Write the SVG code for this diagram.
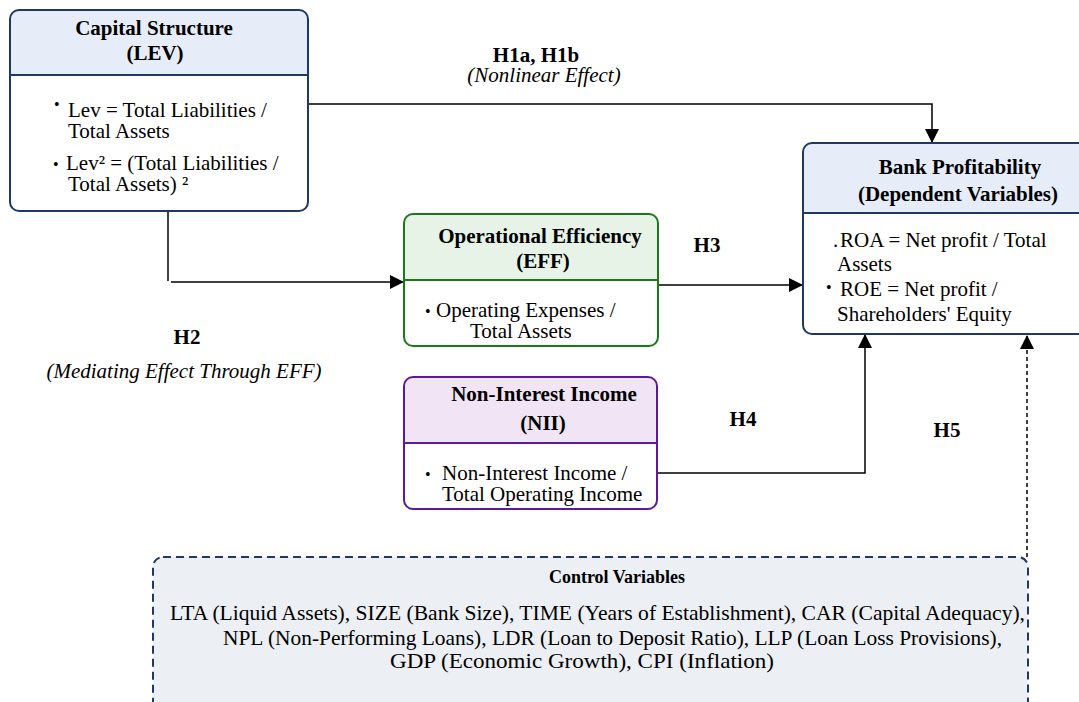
<svg xmlns="http://www.w3.org/2000/svg" width="1079" height="702" viewBox="0 0 1079 702" font-family="'Liberation Serif', 'DejaVu Serif', serif">
<defs>
<marker id="arr" viewBox="0 0 10 10" refX="10" refY="5" markerWidth="14" markerHeight="14" markerUnits="userSpaceOnUse" orient="auto">
<path d="M0,0 L10,5 L0,10 Z" fill="#000"/>
</marker>
</defs>
<style>
text{font-family:'Liberation Serif','DejaVu Serif',serif;fill:#000}
.t{font-size:21px;font-weight:bold;text-anchor:middle}
.b{font-size:21px}
.h{font-size:21px;font-weight:bold;text-anchor:middle}
.i{font-size:21px;font-style:italic;text-anchor:middle}
.d{font-size:16px}
.ln{fill:none;stroke:#000;stroke-width:1.5}
.navy{stroke:#1f3864;stroke-width:2}
.green{stroke:#1a7a1a;stroke-width:2}
.purple{stroke:#5c1a99;stroke-width:2}
</style>
<rect width="1079" height="702" fill="#fff"/>

<g id="control">
<rect x="153" y="557" width="875" height="160" rx="10" fill="#eceff3" stroke="#1f3864" stroke-width="2" stroke-dasharray="8 5"/>
<text x="617" y="583" style="font-size:18px;font-weight:bold;text-anchor:middle">Control Variables</text>
<text x="170" y="620" class="b" textLength="855" lengthAdjust="spacingAndGlyphs">LTA (Liquid Assets), SIZE (Bank Size), TIME (Years of Establishment), CAR (Capital Adequacy),</text>
<text x="223" y="645" class="b" textLength="779" lengthAdjust="spacingAndGlyphs">NPL (Non-Performing Loans), LDR (Loan to Deposit Ratio), LLP (Loan Loss Provisions),</text>
<text x="390" y="668" class="b" textLength="384" lengthAdjust="spacingAndGlyphs">GDP (Economic Growth), CPI (Inflation)</text>
</g>

<g id="connectors">
<polyline class="ln" points="309,104 932,104 932,143" marker-end="url(#arr)"/>
<polyline class="ln" points="168,211 168,281"/>
<line class="ln" x1="171" y1="282" x2="404" y2="282" marker-end="url(#arr)"/>
<line class="ln" x1="658" y1="285" x2="803" y2="285" marker-end="url(#arr)"/>
<polyline class="ln" points="657,473 865,473 865,334" marker-end="url(#arr)"/>
<line x1="1027" y1="557" x2="1027" y2="335" stroke="#000" stroke-width="1.5" stroke-dasharray="4 3" marker-end="url(#arr)"/>
<text x="536" y="62" class="h">H1a, H1b</text>
<text x="544" y="82" class="i">(Nonlinear Effect)</text>
<text x="187" y="344" class="h">H2</text>
<text x="184" y="378" class="i">(Mediating Effect Through EFF)</text>
<text x="707" y="252" class="h">H3</text>
<text x="743" y="426" class="h">H4</text>
<text x="947" y="437" class="h">H5</text>
</g>

<g id="lev">
<rect x="10" y="10" width="298" height="201" rx="9" fill="#fff"/>
<path d="M10,75 V19 a9,9 0 0 1 9,-9 H299 a9,9 0 0 1 9,9 V75 Z" fill="#e7edf8"/>
<line x1="10" y1="75" x2="308" y2="75" class="navy"/>
<rect x="10" y="10" width="298" height="201" rx="9" fill="none" class="navy"/>
<text x="154" y="35" class="t">Capital Structure</text>
<text x="155" y="60" class="t">(LEV)</text>
<text x="54" y="110" class="d">•</text>
<text x="68" y="117" class="b">Lev = Total Liabilities /</text>
<text x="68" y="138" class="b">Total Assets</text>
<text x="53" y="170" class="d">•</text>
<text x="66" y="170" class="b">Lev² = (Total Liabilities /</text>
<text x="68" y="191" class="b">Total Assets) ²</text>
</g>

<g id="eff">
<rect x="404" y="214" width="254" height="132" rx="9" fill="#fff"/>
<path d="M404,280 V223 a9,9 0 0 1 9,-9 H649 a9,9 0 0 1 9,9 V280 Z" fill="#e6f3e6"/>
<line x1="404" y1="280" x2="658" y2="280" class="green"/>
<rect x="404" y="214" width="254" height="132" rx="9" fill="none" class="green"/>
<text x="540" y="243" class="t">Operational Efficiency</text>
<text x="543" y="268" class="t">(EFF)</text>
<text x="425" y="317" class="d">•</text>
<text x="436" y="317" class="b">Operating Expenses /</text>
<text x="470" y="338" class="b">Total Assets</text>
</g>

<g id="nii">
<rect x="404" y="377" width="253" height="132" rx="9" fill="#fff"/>
<path d="M404,443 V386 a9,9 0 0 1 9,-9 H648 a9,9 0 0 1 9,9 V443 Z" fill="#f1e4f4"/>
<line x1="404" y1="443" x2="657" y2="443" class="purple"/>
<rect x="404" y="377" width="253" height="132" rx="9" fill="none" class="purple"/>
<text x="544" y="401" class="t">Non-Interest Income</text>
<text x="543" y="430" class="t">(NII)</text>
<text x="425" y="480" class="d">•</text>
<text x="442" y="480" class="b">Non-Interest Income /</text>
<text x="442" y="501" class="b">Total Operating Income</text>
</g>

<g id="bank">
<rect x="803" y="143" width="290" height="191" rx="9" fill="#fff"/>
<path d="M803,213 V152 a9,9 0 0 1 9,-9 H1093 V213 Z" fill="#e7edf8"/>
<line x1="803" y1="213" x2="1093" y2="213" class="navy"/>
<rect x="803" y="143" width="290" height="191" rx="9" fill="none" class="navy"/>
<text x="960" y="174" class="t">Bank Profitability</text>
<text x="958" y="201" class="t">(Dependent Variables)</text>
<text x="833" y="247" class="b">.</text>
<text x="840" y="247" class="b">ROA = Net profit / Total</text>
<text x="837" y="271" class="b">Assets</text>
<text x="826" y="293" class="d">•</text>
<text x="840" y="296" class="b">ROE = Net profit /</text>
<text x="837" y="321" class="b">Shareholders' Equity</text>
</g>
</svg>
